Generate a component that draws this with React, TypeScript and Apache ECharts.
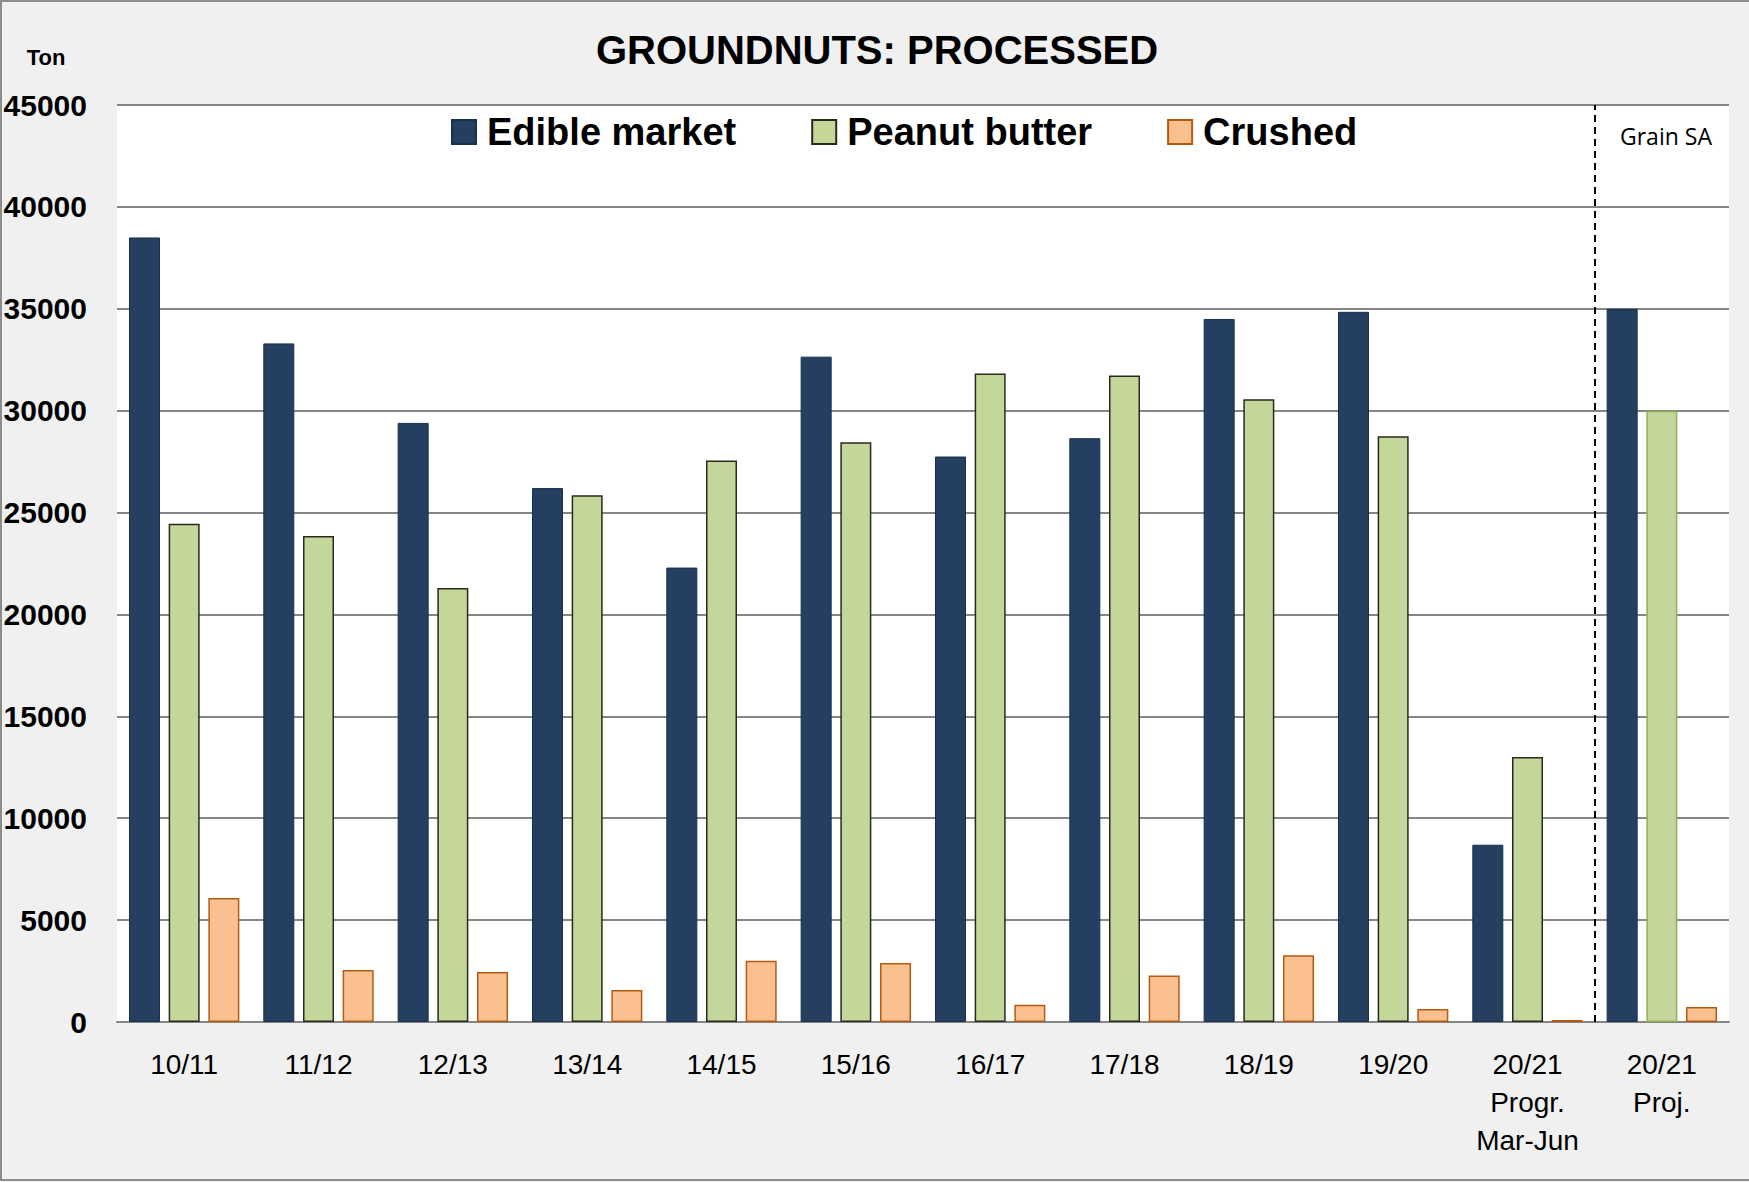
import React, { useEffect, useRef } from "react";
import * as echarts from "echarts";

const categories = [
  "10/11", "11/12", "12/13", "13/14", "14/15", "15/16",
  "16/17", "17/18", "18/19", "19/20", "20/21\nProgr.\nMar-Jun", "20/21\nProj.",
];
const edibleMarket = [38500, 33300, 29400, 26200, 22300, 32650, 27750, 28650, 34500, 34850, 8700, 35000];
const peanutButter = [24450, 23850, 21300, 25850, 27550, 28450, 31820, 31730, 30560, 28740, 13000, 30000];
const crushed = [6090, 2550, 2450, 1570, 3000, 2900, 850, 2280, 3280, 640, 100, 740];
const yTicks = { min: 0, max: 45000, interval: 5000 };
const dividerAt = 11; // boundary between progressive and projection categories

const SANS = "'Liberation Sans', Arial, sans-serif";

export default function App() {
  const ref = useRef<HTMLDivElement>(null);
  useEffect(() => {
    if (!ref.current) return;
    const chart = echarts.init(ref.current, null, { renderer: "svg" });
    const pbData = peanutButter.map((v, i) =>
      i === categories.length - 1
        ? { value: v, itemStyle: { borderColor: "#8DB255" } }
        : v
    );
    chart.setOption({
      animation: false,
      backgroundColor: "#F0F0F0",
      title: {
        text: "GROUNDNUTS: PROCESSED",
        left: 872,
        textAlign: "center",
        top: 25,
        textStyle: { fontFamily: SANS, fontWeight: "bold", fontSize: 40, color: "#000" },
      },
      legend: {
        left: 446,
        top: 108,
        icon: "rect",
        itemWidth: 24,
        itemHeight: 24,
        itemGap: 75,
        textStyle: { fontFamily: SANS, fontWeight: "bold", fontSize: 38, color: "#000", padding: [0, 0, 0, 6] },
        data: ["Edible market", "Peanut butter", "Crushed"],
      },
      grid: {
        left: 117, right: 20, top: 105, bottom: 160,
        outerBoundsMode: "none", containLabel: false,
        show: true, backgroundColor: "#FFFFFF", borderWidth: 0,
      },
      xAxis: [
        {
          type: "category",
          data: categories,
          axisLine: { show: true, lineStyle: { color: "#868686", width: 2 } },
          axisTick: { show: false },
          axisLabel: {
            interval: 0,
            margin: 23,
            fontFamily: SANS,
            fontSize: 28,
            lineHeight: 38,
            color: "#000",
          },
        },
        { type: "value", min: 0, max: categories.length, show: false },
      ],
      yAxis: {
        type: "value",
        min: yTicks.min,
        max: yTicks.max,
        interval: yTicks.interval,
        axisLine: { show: false },
        axisTick: { show: false },
        splitLine: { lineStyle: { color: "#868686", width: 2 } },
        axisLabel: {
          margin: 30,
          fontFamily: SANS,
          fontWeight: "bold",
          fontSize: 30,
          color: "#000",
          formatter: (v: number) => String(v),
        },
      },
      series: [
        {
          name: "Edible market",
          type: "bar",
          data: edibleMarket,
          barWidth: 31,
          barGap: "28%",
          itemStyle: { color: "#243F60", borderColor: "#17304D", borderWidth: 1 },
        },
        {
          name: "Peanut butter",
          type: "bar",
          data: pbData,
          barWidth: 31,
          barGap: "28%",
          itemStyle: { color: "#C4D79B", borderColor: "#2A2A1C", borderWidth: 1.5 },
        },
        {
          name: "Crushed",
          type: "bar",
          data: crushed,
          barWidth: 31,
          barGap: "28%",
          itemStyle: { color: "#FAC090", borderColor: "#B65A12", borderWidth: 1.5 },
        },
        {
          name: "divider",
          type: "line",
          xAxisIndex: 1,
          data: [],
          silent: true,
          markLine: {
            symbol: "none",
            silent: true,
            label: { show: false },
            lineStyle: { color: "#000", width: 2, type: [7, 5] },
            data: [{ xAxis: dividerAt }],
          },
        },
      ],
      graphic: [
        {
          type: "rect",
          shape: { x: 1, y: 1, width: 1770, height: 1179 },
          style: { fill: "none", stroke: "#8C8C8C", lineWidth: 2 },
          silent: true,
        },
        {
          type: "text",
          x: 46,
          y: 57,
          style: { text: "Ton", fontFamily: SANS, fontWeight: "bold", fontSize: 22, fill: "#000", align: "center", verticalAlign: "middle" },
        },
        {
          type: "text",
          x: 1620,
          y: 136,
          style: { text: "Grain SA", fontFamily: "'Open Sans', " + SANS, fontSize: 23, fill: "#000", align: "left", verticalAlign: "middle" },
        },
      ],
    });
    return () => chart.dispose();
  }, []);
  return (
    <div style={{ position: "fixed", left: 0, top: 0, width: 1749, height: 1182 }}>
      <div ref={ref} style={{ width: 1749, height: 1182 }} />
    </div>
  );
}
